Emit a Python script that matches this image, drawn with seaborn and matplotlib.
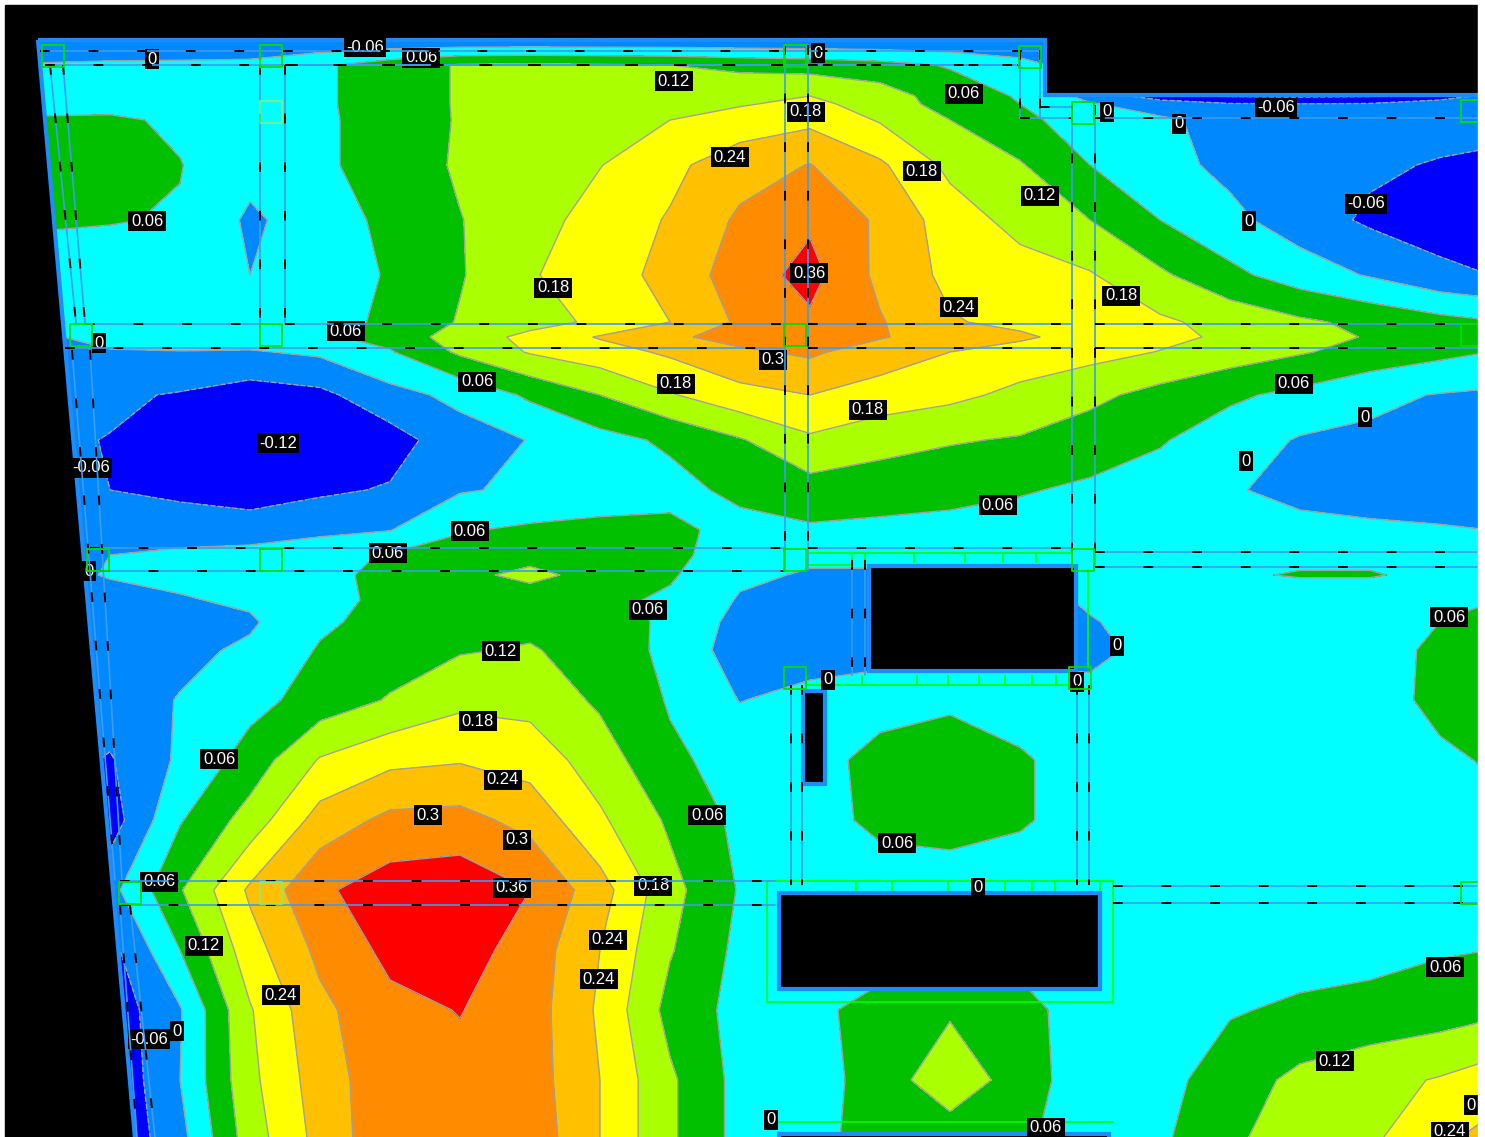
import numpy as np
import pandas as pd
import matplotlib
matplotlib.use('Agg')
import matplotlib.pyplot as plt
from matplotlib.patches import Polygon, Rectangle
import seaborn as sns

# grid stations of the moment field
x_stations = [40, 110, 180, 250, 320, 390, 460, 530, 600, 670, 740, 810, 880, 950, 1020, 1090, 1160, 1230, 1300, 1370, 1440, 1490]
y_stations = [40, 65, 96, 104, 120, 165, 220, 275, 322, 337, 352, 395, 440, 490, 530, 555, 575, 600, 622, 650, 700, 760, 820, 890, 950, 1010, 1080, 1140]

# moment values, one list per y station
m_040 = [-.05, -.05, -.05, -.05, -.05, -.05, -.05, -.05, -.05, -.05, -.05, -.05, -.05, -.05, -.05, -.03, -.03, -.03, -.03, -.03, -.03, -.03]
m_065 = [.005, .01, .012, .015, .05, .09, .125, .13, .125, .12, .105, .095, .08, .055, .02, -.03, -.03, -.03, -.03, -.03, -.03, -.03]
m_096 = [.02, .035, .03, .02, .05, .09, .125, .14, .15, .155, .165, .18, .15, .09, .055, -.02, -.09, -.125, -.13, -.125, -.08, -.05]
m_104 = [.03, .04, .03, .02, .05, .09, .125, .14, .155, .165, .175, .195, .155, .095, .06, .005, -.03, -.055, -.058, -.055, -.04, -.035]
m_120 = [.07, .07, .05, .02, .05, .085, .125, .145, .165, .18, .205, .225, .175, .12, .075, .03, .01, -.02, -.03, -.035, -.035, -.035]
m_165 = [.08, .09, .062, .02, .05, .085, .128, .15, .178, .225, .275, .302, .25, .165, .125, .06, .02, -.015, -.035, -.05, -.065, -.075]
m_220 = [.07, .063, .056, -.01, .03, .075, .118, .155, .205, .245, .31, .35, .29, .21, .16, .12, .06, .015, -.03, -.07, -.09, -.095]
m_275 = [.02, .03, .03, .0, .03, .065, .115, .175, .21, .26, .33, .38, .285, .225, .205, .185, .13, .075, .03, -.005, -.045, -.06]
m_322 = [.0, .025, .03, .02, .04, .07, .125, .16, .19, .24, .31, .35, .305, .245, .225, .205, .19, .16, .13, .105, .08, .065]
m_337 = [-.01, .02, .025, .03, .05, .08, .15, .195, .245, .29, .32, .345, .305, .27, .25, .215, .195, .17, .145, .115, .085, .07]
m_352 = [-.02, -.005, -.002, -.005, .01, .055, .13, .185, .215, .25, .29, .31, .27, .24, .215, .20, .178, .15, .125, .10, .075, .06]
m_395 = [-.05, -.05, -.065, -.09, -.075, -.02, .015, .07, .12, .175, .22, .24, .215, .195, .165, .135, .10, .07, .045, .012, -.003, -.01]
m_440 = [-.05, -.062, -.09, -.112, -.10, -.085, -.025, .002, .04, .07, .115, .17, .14, .125, .115, .09, .065, .03, -.005, -.01, -.02, -.025]
m_490 = [-.03, -.06, -.075, -.09, -.07, -.055, -.005, .01, .02, .04, .075, .095, .09, .08, .065, .05, .035, .005, -.015, -.025, -.03, -.03]
m_530 = [-.02, -.02, -.025, -.03, -.015, -.002, .055, .07, .08, .075, .04, .052, .045, .04, .035, .03, .025, .02, .015, .01, .005, .0]
m_555 = [-.01, .0, .01, .02, .04, .065, .085, .10, .10, .075, .03, .01, .02, .03, .03, .035, .04, .04, .05, .05, .04, .03]
m_575 = [-.01, .002, .015, .025, .045, .075, .105, .135, .10, .067, .01, -.005, -.01, -.01, -.01, .04, .05, .055, .063, .063, .05, .04]
m_600 = [-.03, -.01, -.005, .01, .04, .075, .09, .09, .075, .05, -.005, -.03, -.04, -.04, -.03, .01, .03, .035, .035, .035, .045, .058]
m_622 = [-.03, -.03, -.025, -.008, .05, .08, .10, .105, .085, .05, -.02, -.03, -.03, -.03, -.03, -.005, .028, .032, .032, .037, .06, .075]
m_650 = [-.03, -.03, -.015, .01, .065, .09, .115, .125, .095, .045, -.03, -.03, -.02, -.02, -.02, -.02, .025, .03, .03, .04, .07, .09]
m_700 = [-.03, -.03, .003, .04, .085, .125, .165, .16, .11, .055, -.002, .02, .03, .05, .03, .025, .025, .03, .03, .035, .075, .095]
m_760 = [-.03, -.065, .01, .085, .185, .225, .235, .215, .15, .07, .04, .03, .085, .09, .068, .03, .03, .03, .03, .03, .05, .065]
m_820 = [-.03, -.09, .055, .145, .265, .315, .32, .28, .19, .11, .045, .03, .078, .09, .068, .03, .03, .03, .03, .03, .025, .045]
m_890 = [-.03, -.02, .115, .25, .35, .39, .40, .36, .265, .14, .055, .02, .02, .02, .02, .02, .02, .02, .02, .02, .02, .02]
m_950 = [-.05, -.08, .06, .215, .315, .375, .385, .335, .24, .125, .045, .04, .04, .04, .04, .03, .03, .03, .035, .04, .055, .06]
m_1010 = [-.09, -.10, -.005, .175, .285, .345, .362, .33, .23, .10, .04, .05, .075, .11, .08, .03, .03, .055, .07, .08, .09, .105]
m_1080 = [-.12, -.115, .0, .165, .27, .34, .345, .33, .24, .13, .04, .04, .08, .17, .085, .03, .04, .09, .135, .16, .185, .21]
m_1140 = [-.12, -.115, -.02, .15, .26, .345, .36, .34, .24, .13, .04, .045, .08, .075, .07, .03, .05, .11, .15, .17, .23, .26]

levels = [-1, -.12, -.06, 0, .06, .12, .18, .24, .30, .36, 1]
band_colors = ['#9900dd', '#0000ff', '#0088ff', '#00ffff', '#00c000', '#aaff00', '#ffff00', '#ffc000', '#ff8c00', '#ff0000']

# slab outline and openings
slab_x = [38, 1045, 1045, 1500, 1500, 136]
slab_y = [40, 40, 95, 95, 1150, 1150]
hole_x = [869, 779, 803, 779]
hole_y = [566, 893, 691, 1134]
hole_w = [207, 321, 22, 330]
hole_h = [105, 96, 93, 10]

# beam edges as x1, y1, x2, y2
beam_x1 = [40, 45, 285, 808, 85, 285, 808, 1095, 65, 808, 1095, 90, 808, 1095, 100, 1095, 120, 120, 1113, 1113, 1040, 1020, 1095, 785, 808, 1072, 1095, 260, 285, 50, 63, 72, 90, 791, 802, 1077, 1089, 120, 130, 852, 865, 1020, 1040]
beam_y1 = [51, 65, 65, 65, 324, 324, 324, 324, 348, 348, 348, 548, 548, 552, 571, 567, 881, 905, 886, 903, 107, 118, 118, 45, 45, 105, 105, 65, 65, 65, 65, 350, 350, 685, 685, 685, 685, 905, 905, 560, 560, 50, 50]
beam_x2 = [1040, 1020, 785, 1020, 260, 785, 1072, 1478, 785, 1072, 1478, 785, 1072, 1478, 785, 1478, 775, 775, 1478, 1478, 1072, 1072, 1478, 785, 808, 1072, 1095, 260, 285, 76, 85, 115, 122, 791, 802, 1077, 1089, 137, 155, 852, 865, 1020, 1040]
beam_y2 = [51, 65, 65, 65, 324, 324, 324, 324, 348, 348, 348, 548, 548, 552, 571, 567, 881, 905, 886, 903, 107, 118, 118, 570, 570, 565, 565, 324, 324, 323, 323, 880, 880, 885, 885, 885, 885, 1137, 1137, 675, 675, 118, 118]

# green rims and their stiffener ticks
rim_x1 = [809, 809, 806, 1088, 767, 767, 1113, 767, 775]
rim_y1 = [553, 565, 685, 570, 881, 1002, 881, 881, 1122]
rim_x2 = [1072, 853, 1072, 1088, 1113, 1113, 1113, 767, 1113]
rim_y2 = [553, 565, 685, 668, 881, 1002, 1002, 1002, 1122]
tick_top_x = [852, 865, 914, 965, 1003, 1036]
tick_bottom_x = [806, 862, 917, 948, 979, 1005, 1032, 1056]
tick_lower_x = [856, 892, 948, 1005, 1032, 1055, 1100]

# support squares, the second group is drawn fainter
column_x = [53, 271, 795, 1030, 81, 271, 795, 1083, 1472, 1472, 98, 271, 795, 1083, 795, 1080, 130, 1472]
column_y = [56, 56, 56, 57, 335, 335, 335, 113, 111, 335, 560, 560, 560, 560, 678, 678, 893, 893]
faint_x = [271, 271]
faint_y = [112, 893]

label_x = [152, 365, 421, 674, 818, 806, 964, 730, 922, 1040, 1107, 1179, 1276, 1249, 1366, 147, 553, 809, 959, 1121, 346, 99, 773, 477, 676, 868, 1294, 1365, 278, 91, 1246, 998, 470, 388, 89, 648, 1449, 1117, 501, 828, 1077, 478, 219, 503, 428, 517, 707, 897, 159, 512, 653, 978, 204, 608, 599, 281, 1445, 177, 149, 1335, 771, 1046, 1471, 1450]
label_y = [59, 47, 58, 81, 53, 112, 94, 157, 171, 196, 112, 124, 108, 221, 204, 221, 288, 273, 307, 296, 331, 343, 360, 382, 384, 410, 384, 417, 443, 468, 461, 505, 531, 553, 571, 610, 617, 646, 651, 680, 682, 721, 759, 780, 815, 840, 815, 843, 882, 888, 886, 888, 946, 940, 979, 995, 967, 1031, 1039, 1061, 1120, 1128, 1105, 1132]
label_text = ['0', '-0.06', '0.06', '0.12', '0', '0.18', '0.06', '0.24', '0.18', '0.12', '0', '0', '-0.06', '0', '-0.06', '0.06', '0.18', '0.36', '0.24', '0.18', '0.06', '0', '0.3', '0.06', '0.18', '0.18', '0.06', '0', '-0.12', '-0.06', '0', '0.06', '0.06', '0.06', '0', '0.06', '0.06', '0', '0.12', '0', '0', '0.18', '0.06', '0.24', '0.3', '0.3', '0.06', '0.06', '0.06', '0.36', '0.18', '0', '0.12', '0.24', '0.24', '0.24', '0.06', '0', '-0.06', '0.12', '0', '0.06', '0', '0.24']

field = np.array([m_040, m_065, m_096, m_104, m_120, m_165, m_220, m_275, m_322, m_337, m_352, m_395, m_440, m_490, m_530, m_555, m_575, m_600, m_622, m_650, m_700, m_760, m_820, m_890, m_950, m_1010, m_1080, m_1140])

sns.set_theme(style='white')
plt.rcParams['font.family'] = ['Liberation Sans', 'DejaVu Sans']

fig = plt.figure(figsize=(14.85, 11.37), dpi=100, facecolor='white')
ax = fig.add_axes([0, 0, 1, 1])
ax.axis('off')
ax.add_patch(Rectangle((5, 5), 1473, 1132, color='black', zorder=0))

# contour bands clipped to the slab
slab = Polygon(np.column_stack([slab_x, slab_y]), closed=True, transform=ax.transData, facecolor='none', edgecolor='#1e8cff', linewidth=3, zorder=3)
ax.add_patch(slab)
bands = ax.contourf(x_stations, y_stations, field, levels=levels, colors=sns.color_palette(band_colors), zorder=1)
lines = ax.contour(x_stations, y_stations, field, levels=levels[1:-1], colors='#a0a0a0', linewidths=1, zorder=2)
bands.set_clip_path(slab)
lines.set_clip_path(slab)

# openings
for hx, hy, hw, hh in zip(hole_x, hole_y, hole_w, hole_h):
    ax.add_patch(Rectangle((hx, hy), hw, hh, facecolor='black', edgecolor='#1e8cff', linewidth=3, zorder=3))

# green rims round the openings
for x1, y1, x2, y2 in zip(rim_x1, rim_y1, rim_x2, rim_y2):
    ax.plot([x1, x2], [y1, y2], color='#00ff00', linewidth=1.2, zorder=4)
ax.vlines(tick_top_x, 553, 563, color='#00ff00', linewidth=1.2, zorder=4)
ax.vlines(tick_bottom_x, 675, 685, color='#00ff00', linewidth=1.2, zorder=4)
ax.vlines(tick_lower_x, 881, 891, color='#00ff00', linewidth=1.2, zorder=4)

# the values sit under the beam lines, as in the source drawing
for lx, ly, txt in zip(label_x, label_y, label_text):
    ax.text(lx, ly, txt, color='white', fontsize=12, ha='center', va='center', zorder=4.5,
            bbox=dict(facecolor='black', edgecolor='none', pad=1.8))

# beams, blue edges with black dashes on top
beams = pd.DataFrame({'seg': list(range(len(beam_x1))) * 2,
                      'x': beam_x1 + beam_x2,
                      'y': beam_y1 + beam_y2})
sns.lineplot(data=beams, x='x', y='y', units='seg', estimator=None, sort=False,
             color='#3c9cf0', linewidth=1.2, ax=ax, zorder=5)
for x1, y1, x2, y2 in zip(beam_x1, beam_y1, beam_x2, beam_y2):
    ax.plot([x1, x2], [y1, y2], color='black', linewidth=1.4, linestyle=(0, (5, 20)), zorder=6)

sns.scatterplot(x=column_x, y=column_y, marker='s', s=250, facecolor='none', edgecolor='#00e000', linewidth=1.3, ax=ax, zorder=7)
sns.scatterplot(x=faint_x, y=faint_y, marker='s', s=250, facecolor='none', edgecolor='#80f080', linewidth=1.2, ax=ax, zorder=7)

# the drawing is cropped on the right
ax.add_patch(Rectangle((1478, 0), 10, 1137, color='white', zorder=9))

ax.set_xlim(0, 1485)
ax.set_ylim(1137, 0)
ax.set_xlabel('')
ax.set_ylabel('')
fig.savefig('out.png', dpi=100, facecolor='white')
